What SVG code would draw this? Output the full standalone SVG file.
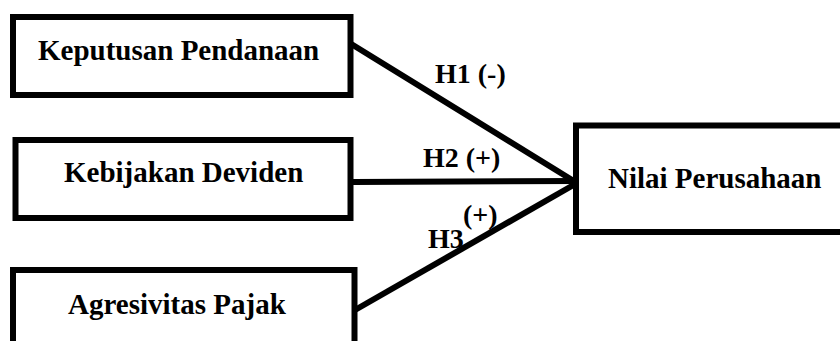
<svg xmlns="http://www.w3.org/2000/svg" width="840" height="341" viewBox="0 0 840 341">
<style>
.box{fill:#fff;stroke:#000;stroke-width:6}
.lbl{font-family:"Liberation Serif",serif;font-weight:bold;font-size:29px;fill:#000}
.hl{font-family:"Liberation Serif",serif;font-weight:bold;font-size:28px;fill:#000}
.edge{stroke:#000;stroke-width:6;fill:none}
</style>
<rect width="840" height="341" fill="#fff"/>
<g id="connectors">
<line class="edge" x1="348" y1="42" x2="577" y2="183"/>
<line class="edge" x1="353" y1="182" x2="577" y2="181"/>
<line class="edge" x1="355" y1="310" x2="577" y2="183"/>
</g>
<g id="node-keputusan">
<rect class="box" x="13" y="17" width="337.5" height="78"/>
<text class="lbl" x="38" y="60">Keputusan Pendanaan</text>
</g>
<g id="node-kebijakan">
<rect class="box" x="15.5" y="140" width="335" height="78"/>
<text class="lbl" x="64" y="182">Kebijakan Deviden</text>
</g>
<g id="node-agresivitas">
<rect class="box" x="13" y="270" width="341.5" height="80"/>
<text class="lbl" x="68" y="314">Agresivitas Pajak</text>
</g>
<g id="node-nilai">
<rect class="box" x="576" y="125.5" width="270" height="106.5"/>
<text class="lbl" x="608" y="188">Nilai Perusahaan</text>
</g>
<g id="labels">
<text class="hl" x="435" y="83">H1 (-)</text>
<text class="hl" x="423" y="167">H2 (+)</text>
<text class="hl" x="428" y="248">H3</text>
<text class="hl" x="463" y="224">(+)</text>
</g>
</svg>
